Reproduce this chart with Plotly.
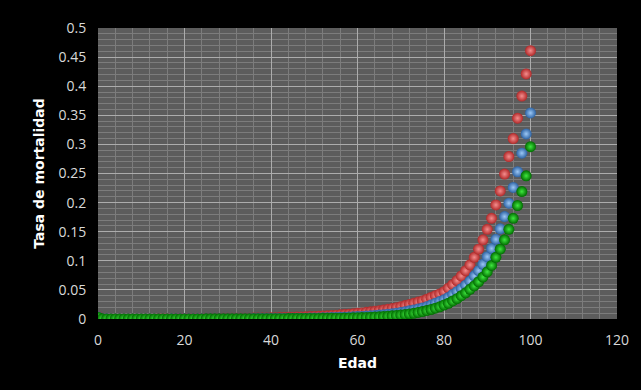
import plotly.graph_objects as go

ages = list(range(0, 101))

tasa_roja = [
    0.0045, 0.0004, 0.0003, 0.0002, 0.0002, 0.0001, 0.0001, 0.0001, 0.0001, 0.0001,
    0.0001, 0.0001, 0.0002, 0.0002, 0.0003, 0.0004, 0.0005, 0.0006, 0.0007, 0.0008,
    0.0009, 0.0009, 0.0009, 0.0010, 0.0010, 0.0010, 0.0010, 0.0010, 0.0010, 0.0011,
    0.0011, 0.0012, 0.0012, 0.0013, 0.0014, 0.0015, 0.0016, 0.0017, 0.0018, 0.0019,
    0.0020, 0.0022, 0.0024, 0.0026, 0.0028, 0.0030, 0.0033, 0.0035, 0.0038, 0.0041,
    0.0045, 0.0048, 0.0052, 0.0056, 0.0061, 0.0066, 0.0071, 0.0077, 0.0083, 0.0090,
    0.0097, 0.0105, 0.0114, 0.0123, 0.0133, 0.0143, 0.0155, 0.0167, 0.0180, 0.0195,
    0.021, 0.023, 0.025, 0.027, 0.029, 0.031, 0.034, 0.037, 0.040, 0.043,
    0.047, 0.053, 0.059, 0.066, 0.074, 0.083, 0.093, 0.106, 0.120, 0.136,
    0.154, 0.173, 0.196, 0.220, 0.249, 0.279, 0.310, 0.345, 0.383, 0.421,
    0.461,
]

tasa_azul = [
    0.0038, 0.0003, 0.00025, 0.0002, 0.00015, 0.0001, 0.0001, 0.0001, 0.0001, 0.0001,
    0.0001, 0.0001, 0.0001, 0.00012, 0.00015, 0.00018, 0.0002, 0.00022, 0.00024, 0.00026,
    0.00028, 0.0003, 0.00032, 0.00034, 0.00036, 0.00038, 0.0004, 0.00042, 0.00044, 0.00046,
    0.00048, 0.0005, 0.00052, 0.00055, 0.00058, 0.0006, 0.00065, 0.0007, 0.00075, 0.0008,
    0.00085, 0.0009, 0.00095, 0.0010, 0.0011, 0.0012, 0.0013, 0.0014, 0.0015, 0.0016,
    0.0017, 0.0018, 0.0020, 0.0022, 0.0024, 0.0026, 0.0028, 0.0031, 0.0034, 0.0037,
    0.0041, 0.0045, 0.0050, 0.0055, 0.0061, 0.0067, 0.0074, 0.0082, 0.0090, 0.0100,
    0.0112, 0.0125, 0.0140, 0.0155, 0.017, 0.019, 0.021, 0.024, 0.027, 0.030,
    0.033, 0.037, 0.042, 0.047, 0.052, 0.058, 0.065, 0.074, 0.083, 0.094,
    0.107, 0.121, 0.137, 0.155, 0.176, 0.199, 0.226, 0.253, 0.285, 0.318,
    0.354,
]

tasa_verde = [
    0.0032, 0.00025, 0.0002, 0.00015, 0.00012, 0.0001, 0.0001, 0.0001, 0.0001, 0.0001,
    0.0001, 0.0001, 0.0001, 0.0001, 0.00012, 0.00013, 0.00014, 0.00015, 0.00016, 0.00017,
    0.00018, 0.00019, 0.0002, 0.0002, 0.00021, 0.00022, 0.00023, 0.00024, 0.00025, 0.00026,
    0.00028, 0.00029, 0.0003, 0.00032, 0.00034, 0.00036, 0.00038, 0.0004, 0.00042, 0.00045,
    0.00048, 0.00052, 0.00056, 0.0006, 0.00065, 0.0007, 0.00075, 0.0008, 0.00085, 0.0009,
    0.00095, 0.0010, 0.0011, 0.0012, 0.0013, 0.0014, 0.0015, 0.0016, 0.0018, 0.0020,
    0.0022, 0.0024, 0.0027, 0.0030, 0.0034, 0.0038, 0.0043, 0.0048, 0.0054, 0.0061,
    0.0069, 0.0078, 0.0088, 0.0099, 0.0112, 0.0127, 0.0144, 0.0163, 0.0185, 0.021,
    0.024, 0.027, 0.031, 0.035, 0.040, 0.045, 0.051, 0.057, 0.064, 0.072,
    0.081, 0.092, 0.106, 0.120, 0.136, 0.154, 0.173, 0.195, 0.219, 0.246,
    0.296,
]

x_ticks = [0, 20, 40, 60, 80, 100, 120]

series = [
    ("Serie roja", tasa_roja, "#f58e8e", "#b02828"),
    ("Serie azul", tasa_azul, "#9cc8f5", "#2c62a3"),
    ("Serie verde", tasa_verde, "#3fe83f", "#006a00"),
]

fig = go.Figure()
for name, vals, c_center, c_edge in series:
    fig.add_trace(go.Scatter(
        x=ages, y=vals, mode="markers", name=name,
        marker=dict(size=11, color=c_edge,
                    gradient=dict(type="radial", color=c_center),
                    line=dict(width=0)),
        showlegend=False,
    ))

tick_font = dict(family="Open Sans", size=14, color="#d9d9d9")
title_font = dict(family="DejaVu Sans", size=14, color="#ffffff")

fig.update_layout(
    width=641, height=390,
    margin=dict(l=98, r=20, t=28, b=71),
    paper_bgcolor="#000000",
    plot_bgcolor="#5c5c5c",
    xaxis=dict(
        range=[0, 120], tickvals=x_ticks, showgrid=True,
        gridcolor="#acacac", gridwidth=1, zeroline=False,
        minor=dict(dtick=4, showgrid=True, gridcolor="#7c7c7c", gridwidth=1),
        tickfont=tick_font, ticks="outside", ticklen=8, tickcolor="rgba(0,0,0,0)",
        title=dict(text="<b>Edad</b>", font=title_font, standoff=10),
        showline=False,
    ),
    yaxis=dict(
        range=[0, 0.5], dtick=0.05, showgrid=True,
        gridcolor="#acacac", gridwidth=1, zeroline=False,
        minor=dict(dtick=0.01, showgrid=True, gridcolor="#7c7c7c", gridwidth=1),
        tickfont=tick_font, ticks="outside", ticklen=8, tickcolor="rgba(0,0,0,0)",
        title=dict(text="<b>Tasa de mortalidad</b>", font=title_font, standoff=10),
        showline=False,
    ),
)

fig.write_html("out.html")
